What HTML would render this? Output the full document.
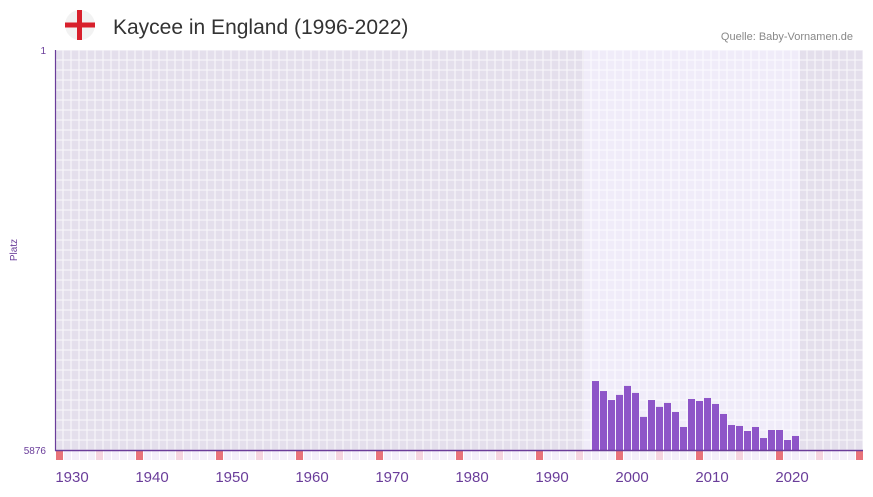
<!DOCTYPE html>
<html><head><meta charset="utf-8"><style>
body{margin:0;background:#fff;width:873px;height:492px;overflow:hidden;font-family:"Liberation Sans",sans-serif}
</style></head><body>
<svg id="c" width="873" height="492" xmlns="http://www.w3.org/2000/svg">
<defs>
<pattern id="grid" x="55" y="50" width="8" height="10" patternUnits="userSpaceOnUse">
<rect width="8" height="10" fill="none" stroke="#fff" stroke-width="1" opacity="0.8"/>
</pattern>
</defs>
<g>
<circle cx="80" cy="25" r="15" fill="#f2f2f2"/>
<rect x="77" y="10" width="5" height="30" fill="#d8202c"/>
<rect x="65" y="22.5" width="30" height="5" fill="#d8202c"/>
</g>
<text x="113" y="34" font-size="21" fill="#333">Kaycee in England (1996-2022)</text>
<text x="853" y="40" font-size="11" fill="#888" text-anchor="end">Quelle: Baby-Vornamen.de</text>
<rect x="55" y="50" width="808" height="400" fill="#e4dfec"/>
<rect x="584" y="50" width="216" height="400" fill="#f0ecf9"/>
<rect x="55" y="50" width="808" height="400" fill="url(#grid)"/>
<g id="strip"></g>
<g id="bars"></g>
<line x1="55.5" y1="50" x2="55.5" y2="451" stroke="#6a3d9a" stroke-width="1.2"/>
<line x1="55" y1="450.5" x2="863" y2="450.5" stroke="#6a3d9a" stroke-width="1.5"/>
<text x="46" y="54" font-size="10" fill="#6a3d9a" text-anchor="end">1</text>
<text x="46" y="454" font-size="10" fill="#6a3d9a" text-anchor="end">5876</text>
<text transform="translate(17,250) rotate(-90)" font-size="10" fill="#6a3d9a" text-anchor="middle">Platz</text>
<g id="xlabels"></g>
</svg>
<script>
const years=[1996,1997,1998,1999,2000,2001,2002,2003,2004,2005,2006,2007,2008,2009,2010,2011,2012,2013,2014,2015,2016,2017,2018,2019,2020,2021];
const ranks=[4863,5010,5142,5067,4935,5038,5390,5142,5243,5185,5318,5538,5127,5156,5112,5200,5347,5509,5523,5597,5538,5700,5582,5582,5729,5670];
const decadeLabels=[1930,1940,1950,1960,1970,1980,1990,2000,2010,2020];
const rankMin=1, rankMax=5876;
const NS="http://www.w3.org/2000/svg";
function xOf(y){return 56+(y-1929)*8;}
function yOf(r){return 50+(r-rankMin)/(rankMax-rankMin)*400;}
const bars=document.getElementById('bars');
years.forEach((yr,i)=>{
 const r=document.createElementNS(NS,'rect');
 const top=yOf(ranks[i]);
 r.setAttribute('x',xOf(yr));r.setAttribute('y',top);
 r.setAttribute('width',7);r.setAttribute('height',450-top);
 r.setAttribute('fill','#8e55c8');
 
 
 bars.appendChild(r);
});
const strip=document.getElementById('strip');
for(let y=1929;y<=2029;y++){
 const r=document.createElementNS(NS,'rect');
 const m=((y%10)+10)%10;
 let f='#f3effa';
 if(m===9)f='#e8737a';else if(m===4)f='#f5d5e0';
 r.setAttribute('x',xOf(y));r.setAttribute('y',451);
 r.setAttribute('width',7);r.setAttribute('height',9);
 r.setAttribute('fill',f);
 
 
 strip.appendChild(r);
}
const xl=document.getElementById('xlabels');
decadeLabels.forEach(d=>{
 const t=document.createElementNS(NS,'text');
 t.setAttribute('x',xOf(d)+8);t.setAttribute('y',482);
 t.setAttribute('font-size','15');t.setAttribute('fill','#6a3d9a');
 t.setAttribute('text-anchor','middle');
 
 
 t.textContent=d;xl.appendChild(t);
});
</script>
</body></html>
